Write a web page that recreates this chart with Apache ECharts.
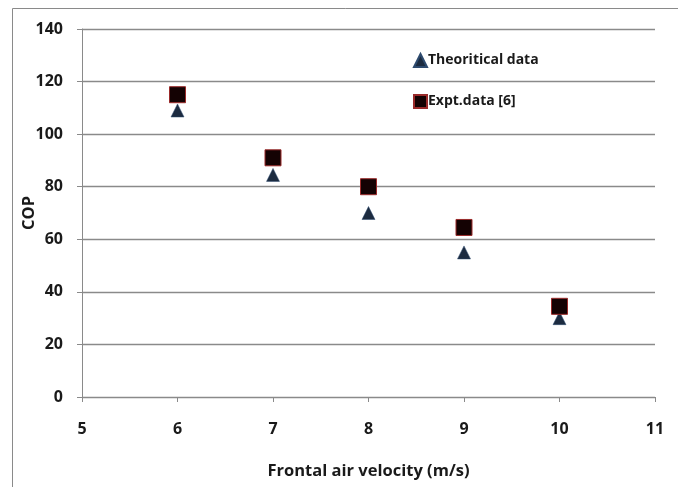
<!DOCTYPE html>
<html>
<head>
<meta charset="utf-8">
<script src="https://cdn.jsdelivr.net/npm/echarts@6/dist/echarts.min.js"></script>
<style>
  html, body { margin: 0; padding: 0; background: #fff; }
  #chart { width: 678px; height: 487px; }
</style>
</head>
<body>
<div id="chart"></div>
<script>
// Frontal air velocity (m/s)
const velocity = [6, 7, 8, 9, 10];
// COP values
const theoretical = [109, 84.5, 70, 55, 30];
const experimental = [115, 91, 80, 64.5, 34.5];
const xTicks = [5, 6, 7, 8, 9, 10, 11];
const yTicks = [0, 20, 40, 60, 80, 100, 120, 140];

const FONT = '"Open Sans", "DejaVu Sans", sans-serif';

const chart = echarts.init(document.getElementById('chart'), null, { renderer: 'canvas' });

chart.setOption({
  backgroundColor: '#ffffff',
  animation: false,
  graphic: [{
    type: 'rect',
    left: 10, top: 6,
    shape: { width: 700, height: 520 },
    style: { fill: 'none', stroke: '#8a8a8a', lineWidth: 1 },
    silent: true
  }],
  grid: { left: 82, right: 23, top: 29, bottom: 90 },
  legend: {
    orient: 'vertical',
    left: 408, top: 48,
    itemWidth: 13, itemHeight: 13,
    itemGap: 26,
    textStyle: { fontFamily: FONT, fontSize: 14, fontWeight: 'bold', color: '#1a1a1a', padding: [0, 0, 0, -4] },
    data: [
      { name: 'Theoritical data', icon: 'triangle', itemStyle: { opacity: 1 } },
      { name: 'Expt.data [6]', icon: 'rect', itemStyle: { opacity: 1 } }
    ]
  },
  xAxis: {
    type: 'value',
    min: xTicks[0], max: xTicks[xTicks.length - 1], interval: 1,
    name: 'Frontal air velocity (m/s)',
    nameLocation: 'middle', nameGap: 66,
    nameTextStyle: { fontFamily: FONT, fontSize: 16.5, fontWeight: 'bold', color: '#1a1a1a' },
    axisLine: { show: true, lineStyle: { color: '#8a8a8a', width: 1 } },
    axisTick: { show: true, length: 5, inside: false, lineStyle: { color: '#8a8a8a' } },
    axisLabel: { fontFamily: FONT, fontSize: 16, fontWeight: 'bold', color: '#1a1a1a', margin: 24 },
    splitLine: { show: false }
  },
  yAxis: {
    type: 'value',
    min: yTicks[0], max: yTicks[yTicks.length - 1], interval: 20,
    name: 'COP',
    nameLocation: 'middle', nameGap: 44, nameRotate: 90,
    nameMoveOverlap: false,
    nameTextStyle: { fontFamily: FONT, fontSize: 16.5, fontWeight: 'bold', color: '#1a1a1a' },
    axisLine: { show: true, lineStyle: { color: '#8a8a8a', width: 1 } },
    axisTick: { show: true, length: 5, lineStyle: { color: '#8a8a8a' } },
    axisLabel: { fontFamily: FONT, fontSize: 16, fontWeight: 'bold', color: '#1a1a1a', margin: 19 },
    splitLine: { show: true, lineStyle: { color: '#8a8a8a', width: 1.3 } }
  },
  series: [
    {
      name: 'Theoritical data',
      type: 'scatter',
      symbol: 'triangle',
      symbolSize: [13, 13],
      itemStyle: { color: '#1c2b40', borderColor: '#2d4a6e', borderWidth: 0.5, opacity: 1 },
      data: velocity.map((v, i) => [v, theoretical[i]]),
      z: 2
    },
    {
      name: 'Expt.data [6]',
      type: 'scatter',
      symbol: 'rect',
      symbolSize: [16, 16],
      itemStyle: { color: '#140203', borderColor: '#9a2a2a', borderWidth: 1, opacity: 1 },
      data: velocity.map((v, i) => [v, experimental[i]]),
      z: 3
    }
  ]
});
</script>
</body>
</html>
